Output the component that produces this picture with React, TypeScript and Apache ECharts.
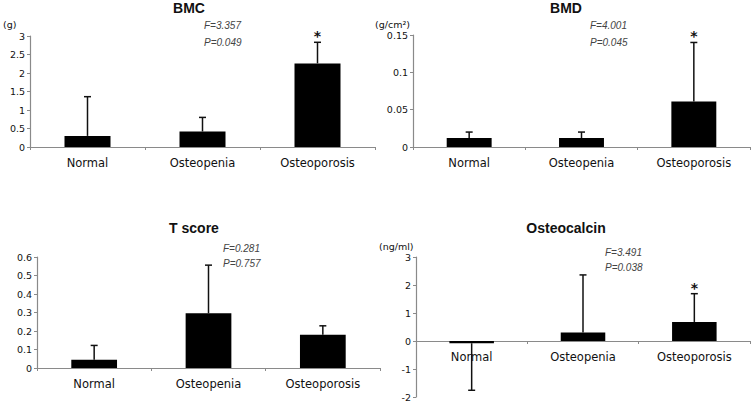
import React, { useEffect, useRef } from "react";
import * as echarts from "echarts";

const categories = ["Normal", "Osteopenia", "Osteoporosis"];

const bmcMeans = [0.3, 0.42, 2.26];
const bmcErrTop = [1.36, 0.8, 2.83];
const bmdMeans = [0.012, 0.012, 0.061];
const bmdErrTop = [0.02, 0.02, 0.14];
const tMeans = [0.045, 0.296, 0.18];
const tErrTop = [0.122, 0.556, 0.228];
const ocMeans = [-0.08, 0.3, 0.68];
const ocErrEnd = [-1.76, 2.36, 1.69];
const sigFlags = [0, 0, 1];
const tSigFlags = [0, 0, 0];

const panels = [
  { title: "BMC", unit: "(g)", F: "F=3.357", P: "P=0.049", means: bmcMeans, err: bmcErrTop, sig: sigFlags, min: 0, max: 3, interval: 0.5 },
  { title: "BMD", unit: "(g/cm²)", F: "F=4.001", P: "P=0.045", means: bmdMeans, err: bmdErrTop, sig: sigFlags, min: 0, max: 0.15, interval: 0.05 },
  { title: "T score", unit: "", F: "F=0.281", P: "P=0.757", means: tMeans, err: tErrTop, sig: tSigFlags, min: 0, max: 0.6, interval: 0.1 },
  { title: "Osteocalcin", unit: "(ng/ml)", F: "F=3.491", P: "P=0.038", means: ocMeans, err: ocErrEnd, sig: sigFlags, min: -2, max: 3, interval: 1 },
];

const grids = [
  { left: 30, top: 36, width: 345, height: 111 },
  { left: 413, top: 35, width: 337, height: 112 },
  { left: 37, top: 257, width: 343, height: 111 },
  { left: 416, top: 257, width: 334, height: 140 },
];

const layout = [
  { titleX: 189, titleY: 8, unitX: 3, unitY: 24, fx: 204, fy: 25, py: 42 },
  { titleX: 566, titleY: 8, unitX: 375, unitY: 24, fx: 590, fy: 25, py: 42 },
  { titleX: 194, titleY: 228, unitX: 0, unitY: 0, fx: 223, fy: 248, py: 263 },
  { titleX: 566, titleY: 228, unitX: 379, unitY: 246, fx: 605, fy: 252, py: 267 },
];

export default function App() {
  const ref = useRef<HTMLDivElement>(null);
  useEffect(() => {
    if (!ref.current) return;
    const chart = echarts.init(ref.current, undefined, { renderer: "svg" });
    const axisColor = "#8a8a8a";
    const font = "DejaVu Sans";

    const xAxis = panels.map((p, i) => {
      const g = grids[i];
      const zeroOffset = -(g.height * (0 - p.min)) / (p.max - p.min);
      return {
        type: "category",
        gridIndex: i,
        data: categories,
        offset: zeroOffset,
        axisLine: { show: true, onZero: false, lineStyle: { color: axisColor, width: 1.2 } },
        axisTick: { show: true, length: 3, lineStyle: { color: axisColor } },
        axisLabel: { fontFamily: font, fontSize: 11.5, color: "#111", margin: 10 },
      };
    });
    const yAxis = panels.map((p, i) => ({
      type: "value",
      gridIndex: i,
      min: p.min,
      max: p.max,
      interval: p.interval,
      axisLine: { show: true, lineStyle: { color: axisColor, width: 1.2 } },
      axisTick: { show: true, length: 3, lineStyle: { color: axisColor } },
      splitLine: { show: false },
      axisLabel: { fontFamily: font, fontSize: 9.5, color: "#111", margin: 5 },
    }));

    const series: any[] = [];
    panels.forEach((p, i) => {
      series.push({
        type: "bar",
        xAxisIndex: i,
        yAxisIndex: i,
        data: p.means,
        barWidth: "40%",
        itemStyle: { color: "#000" },
      });
      series.push({
        type: "custom",
        xAxisIndex: i,
        yAxisIndex: i,
        data: p.means.map((m, k) => [k, m, p.err[k], p.sig[k]]),
        z: 5,
        renderItem: (params: any, api: any) => {
          const x = api.value(0);
          const v = api.value(1);
          const e = api.value(2);
          const s = api.value(3);
          const p0 = api.coord([x, v]);
          const p1 = api.coord([x, e]);
          const style = { stroke: "#111", lineWidth: 1.5 };
          const children: any[] = [
            { type: "line", shape: { x1: p0[0], y1: p0[1], x2: p1[0], y2: p1[1] }, style },
            { type: "line", shape: { x1: p1[0] - 3.5, y1: p1[1], x2: p1[0] + 3.5, y2: p1[1] }, style },
          ];
          if (s === 1) {
            children.push({
              type: "text",
              x: p1[0],
              y: p1[1] - 6,
              style: { text: "*", fontSize: 14, fontWeight: "bold", fontFamily: font, fill: "#111", align: "center", verticalAlign: "middle" },
            });
          }
          return { type: "group", children };
        },
      });
    });

    const graphic: any[] = [];
    panels.forEach((p, i) => {
      const l = layout[i];
      graphic.push({
        type: "text",
        x: l.titleX,
        y: l.titleY,
        style: { text: p.title, fontSize: 14, fontWeight: "bold", fontFamily: "Liberation Sans", fill: "#111", align: "center", verticalAlign: "middle" },
      });
      if (p.unit) {
        graphic.push({
          type: "text",
          x: l.unitX,
          y: l.unitY,
          style: { text: p.unit, fontSize: 9.5, fontFamily: font, fill: "#111", align: "left", verticalAlign: "middle" },
        });
      }
      graphic.push({
        type: "text",
        x: l.fx,
        y: l.fy,
        style: { text: p.F, fontSize: 10, fontStyle: "italic", fontFamily: "Liberation Sans", fill: "#444", align: "left", verticalAlign: "middle" },
      });
      graphic.push({
        type: "text",
        x: l.fx,
        y: l.py,
        style: { text: p.P, fontSize: 10, fontStyle: "italic", fontFamily: "Liberation Sans", fill: "#444", align: "left", verticalAlign: "middle" },
      });
    });

    chart.setOption({
      animation: false,
      backgroundColor: "#fff",
      grid: grids.map((g) => ({ ...g, outerBoundsMode: "none", containLabel: false })),
      xAxis,
      yAxis,
      series,
      graphic,
    });
    return () => chart.dispose();
  }, []);
  return <div ref={ref} style={{ position: "fixed", left: 0, top: 0, width: 756, height: 402 }} />;
}
